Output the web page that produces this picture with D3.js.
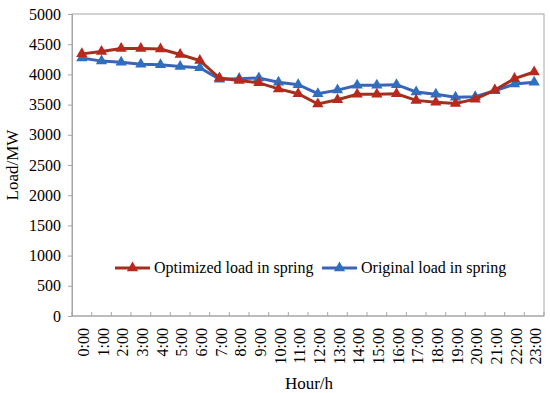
<!DOCTYPE html>
<html>
<head>
<meta charset="utf-8">
<script src="https://cdn.jsdelivr.net/npm/d3@7"></script>
<style>
  body { margin: 0; background: #fff; }
</style>
</head>
<body>
<script>
// hours on the x axis
const hours = ["0:00","1:00","2:00","3:00","4:00","5:00","6:00","7:00","8:00","9:00","10:00","11:00",
  "12:00","13:00","14:00","15:00","16:00","17:00","18:00","19:00","20:00","21:00","22:00","23:00"];
// load values (MW)
const optimized = [4340,4380,4430,4430,4420,4330,4230,3940,3900,3860,3760,3680,
  3510,3580,3670,3670,3680,3570,3540,3520,3590,3740,3930,4040];
const original = [4270,4220,4200,4170,4160,4130,4110,3920,3930,3940,3870,3830,
  3680,3740,3820,3820,3830,3710,3670,3620,3630,3730,3840,3870];
const yTicks = [0,500,1000,1500,2000,2500,3000,3500,4000,4500,5000];

const W = 550, H = 393;
const m = {left: 72, right: 6, top: 14, bottom: 77};
const FONT = "Liberation Serif";

const svg = d3.select("body").append("svg")
  .attr("width", W).attr("height", H)
  .attr("font-family", FONT);

const x = d3.scaleBand().domain(hours).range([m.left, W - m.right]);
const y = d3.scaleLinear().domain([0, 5000]).range([H - m.bottom, m.top]);

// plot box
svg.append("rect")
  .attr("x", m.left).attr("y", m.top)
  .attr("width", W - m.right - m.left).attr("height", H - m.bottom - m.top)
  .attr("fill", "none").attr("stroke", "#a6a6a6");

// y axis
const yAxis = svg.append("g")
  .attr("transform", "translate(" + m.left + ",0)")
  .call(d3.axisLeft(y).tickValues(yTicks).tickFormat(d3.format("d")).tickSize(4).tickPadding(7));
yAxis.attr("font-family", FONT).attr("font-size", 16);
yAxis.selectAll("text").attr("fill", "#000");
yAxis.selectAll("line, path").attr("stroke", "#a6a6a6");

// x axis: ticks between categories, pointing up
const boundaries = d3.range(hours.length + 1).map(i => m.left + i * x.step());
svg.append("line")
  .attr("x1", m.left).attr("x2", W - m.right)
  .attr("y1", y(0)).attr("y2", y(0)).attr("stroke", "#a6a6a6");
svg.selectAll(".xtick").data(boundaries).enter().append("line")
  .attr("x1", d => d).attr("x2", d => d)
  .attr("y1", y(0)).attr("y2", y(0) - 4).attr("stroke", "#a6a6a6");

svg.selectAll(".xlab").data(hours).enter().append("text")
  .attr("transform", d => "translate(" + (x(d) + x.bandwidth() / 2 + 7) + "," + (y(0) + 12) + ") rotate(-90)")
  .attr("text-anchor", "end")
  .attr("font-size", 16)
  .text(d => d);

// axis titles
svg.append("text")
  .attr("transform", "translate(18," + ((m.top + H - m.bottom) / 2) + ") rotate(-90)")
  .attr("text-anchor", "middle").attr("font-size", 17).text("Load/MW");
svg.append("text")
  .attr("x", (m.left + W - m.right) / 2 + 1).attr("y", 389)
  .attr("text-anchor", "middle").attr("font-size", 17).text("Hour/h");

const series = [
  {name: "Optimized load in spring", values: optimized, line: "#a3301f", mark: "#b8281c"},
  {name: "Original load in spring", values: original, line: "#3b63b8", mark: "#2e6fc0"}
];

const line = d3.line()
  .x((d, i) => x(hours[i]) + x.bandwidth() / 2)
  .y(d => y(d));
const tri = d3.symbol().type(d3.symbolTriangle).size(55);

// draw the original first so the optimized sits on top
series.slice().reverse().forEach(s => {
  svg.append("path").datum(s.values)
    .attr("d", line).attr("fill", "none")
    .attr("stroke", s.line).attr("stroke-width", 3);
  svg.selectAll(null).data(s.values).enter().append("path")
    .attr("d", tri)
    .attr("transform", (d, i) => "translate(" + (x(hours[i]) + x.bandwidth() / 2) + "," + y(d) + ")")
    .attr("fill", s.mark);
});

// legend
const legendX = [115, 322];
series.forEach((s, i) => {
  const g = svg.append("g").attr("transform", "translate(" + legendX[i] + ",268)");
  g.append("line").attr("x1", 0).attr("x2", 35).attr("stroke", s.line).attr("stroke-width", 3);
  g.append("path").attr("d", tri).attr("transform", "translate(17.5,0)").attr("fill", s.mark);
  g.append("text").attr("x", 39).attr("y", 5).attr("font-size", 16).text(s.name);
});
</script>
</body>
</html>
